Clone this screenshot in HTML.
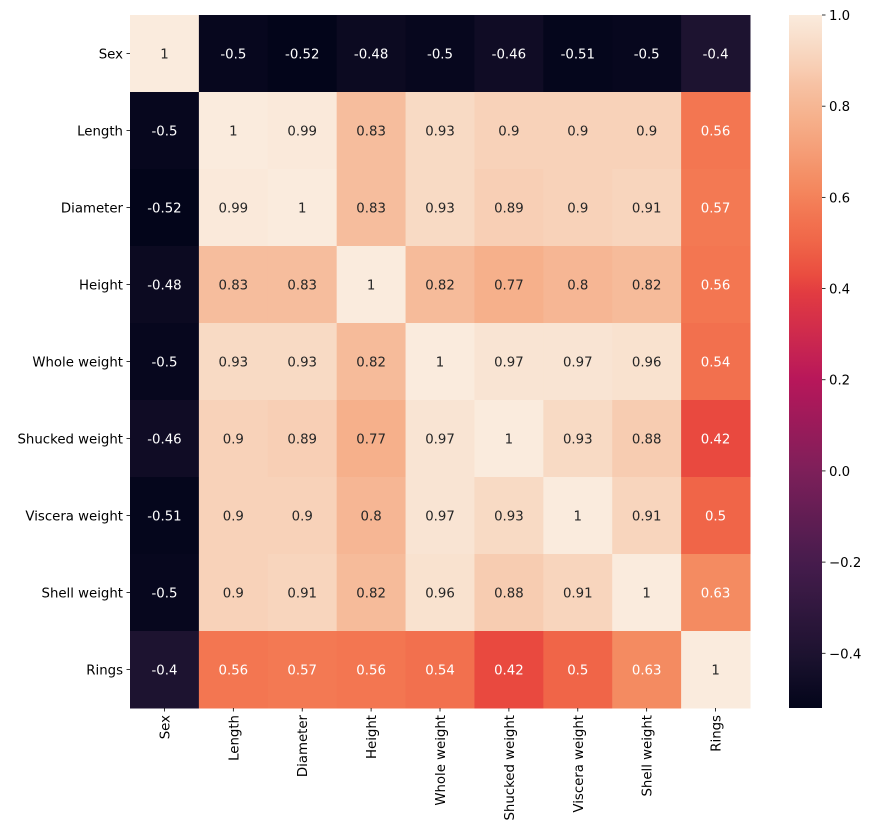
<!DOCTYPE html>
<html><head><meta charset="utf-8"><style>
html,body{margin:0;padding:0;background:#fff;}
svg{display:block;font-family:"DejaVu Sans","Liberation Sans",sans-serif;}
</style></head><body>
<svg id="chart" width="876" height="838" viewBox="0 0 876 838" xmlns="http://www.w3.org/2000/svg">
<g id="cells"></g>
<g id="annots"></g>
<g id="yaxis"></g>
<g id="xaxis"></g>
<defs><linearGradient id="cbgrad" x1="0" y1="1" x2="0" y2="0"></linearGradient></defs>
<rect id="cbar" x="789" y="15" width="33" height="693" fill="url(#cbgrad)"/>
<g id="cbticks"></g>
</svg>
<script>
const labels = ["Sex","Length","Diameter","Height","Whole weight","Shucked weight","Viscera weight","Shell weight","Rings"];
const row0 = [1,-0.5,-0.52,-0.48,-0.5,-0.46,-0.51,-0.5,-0.4];
const row1 = [-0.5,1,0.99,0.83,0.93,0.9,0.9,0.9,0.56];
const row2 = [-0.52,0.99,1,0.83,0.93,0.89,0.9,0.91,0.57];
const row3 = [-0.48,0.83,0.83,1,0.82,0.77,0.8,0.82,0.56];
const row4 = [-0.5,0.93,0.93,0.82,1,0.97,0.97,0.96,0.54];
const row5 = [-0.46,0.9,0.89,0.77,0.97,1,0.93,0.88,0.42];
const row6 = [-0.51,0.9,0.9,0.8,0.97,0.93,1,0.91,0.5];
const row7 = [-0.5,0.9,0.91,0.82,0.96,0.88,0.91,1,0.63];
const row8 = [-0.4,0.56,0.57,0.56,0.54,0.42,0.5,0.63,1];
const matrix = [row0,row1,row2,row3,row4,row5,row6,row7,row8];
const cbTicks = [1.0,0.8,0.6,0.4,0.2,0.0,-0.2,-0.4];
const cbTickLabels = ["1.0","0.8","0.6","0.4","0.2","0.0","\u22120.2","\u22120.4"];

const NS="http://www.w3.org/2000/svg";
const X0=130,Y0=15,W=620,H=693;
const vmin=Math.min(...matrix.flat()), vmax=Math.max(...matrix.flat());
const n=labels.length, cw=W/n, ch=H/n;
const xPos=i=>X0+i*cw, yPos=i=>Y0+i*ch;
const cbY=v=>Y0+(vmax-v)/(vmax-vmin)*H;
// colormap stops (normalized position, colour) approximating "rocket"
const stops=[[0,"#03051a"],[0.079,"#1d1330"],[0.21,"#461c4d"],[0.342,"#7d1f5a"],[0.474,"#b8175a"],[0.605,"#e43d40"],[0.618,"#e9493f"],[0.671,"#f06548"],[0.711,"#f37651"],[0.757,"#f48b61"],[0.849,"#f6b08b"],[0.888,"#f6bd9d"],[0.934,"#f8d2b9"],[0.980,"#f9e4d3"],[1,"#faebdd"]];
function hex(c){return [1,3,5].map(i=>parseInt(c.substr(i,2),16));}
function cmap(t){t=Math.max(0,Math.min(1,t));for(let i=1;i<stops.length;i++){if(t<=stops[i][0]){const[a,ca]=stops[i-1],[b,cb]=stops[i];const f=(t-a)/(b-a||1);const A=hex(ca),B=hex(cb);return "rgb("+A.map((v,k)=>Math.round(v+(B[k]-v)*f)).join(",")+")";}}return stops[stops.length-1][1];}
function mk(tag,attrs,parent){const e=document.createElementNS(NS,tag);for(const k in attrs)e.setAttribute(k,attrs[k]);parent.appendChild(e);return e;}
const cells=document.getElementById('cells'),ann=document.getElementById('annots');
matrix.forEach((row,r)=>row.forEach((v,c)=>{
  const rc=mk('rect',{x:xPos(c),y:yPos(r),width:cw+0.5,height:ch+0.5,fill:cmap((v-vmin)/(vmax-vmin))},cells);
  
  
  const t=mk('text',{x:xPos(c)+cw/2,y:yPos(r)+ch/2+5,'text-anchor':'middle','font-size':'13.3',fill:v<0.7?'#fff':'#262626'},ann);
  t.textContent=String(v);
  
  
}));
const ya=document.getElementById('yaxis'),xa=document.getElementById('xaxis');
labels.forEach((l,i)=>{
  const cy=yPos(i)+ch/2;
  mk('line',{x1:X0-3.5,x2:X0,y1:cy,y2:cy,stroke:'#000','stroke-width':0.8},ya);
  const t=mk('text',{x:X0-7,y:cy+5,'text-anchor':'end','font-size':'13.3',fill:'#000'},ya);
  t.textContent=l;
  
  
  const cx=xPos(i)+cw/2;
  mk('line',{x1:cx,x2:cx,y1:Y0+H,y2:Y0+H+3.5,stroke:'#000','stroke-width':0.8},xa);
  const tx=mk('text',{x:cx+5,y:Y0+H+7,'text-anchor':'end','font-size':'13.3',fill:'#000',transform:`rotate(-90 ${cx+5} ${Y0+H+7})`},xa);
  tx.textContent=l;
  
  
});
const grad=document.getElementById('cbgrad');
for(let i=0;i<=40;i++){const t=i/40;mk('stop',{offset:t,'stop-color':cmap(t)},grad);}
const cbt=document.getElementById('cbticks');
cbTicks.forEach((v,i)=>{
  const y=cbY(v);
  mk('line',{x1:822,x2:825.5,y1:y,y2:y,stroke:'#000','stroke-width':0.8},cbt);
  const t=mk('text',{x:829,y:y+5,'font-size':'13.3',fill:'#000'},cbt);
  t.textContent=cbTickLabels[i];
  
  
});
</script>
</body></html>
